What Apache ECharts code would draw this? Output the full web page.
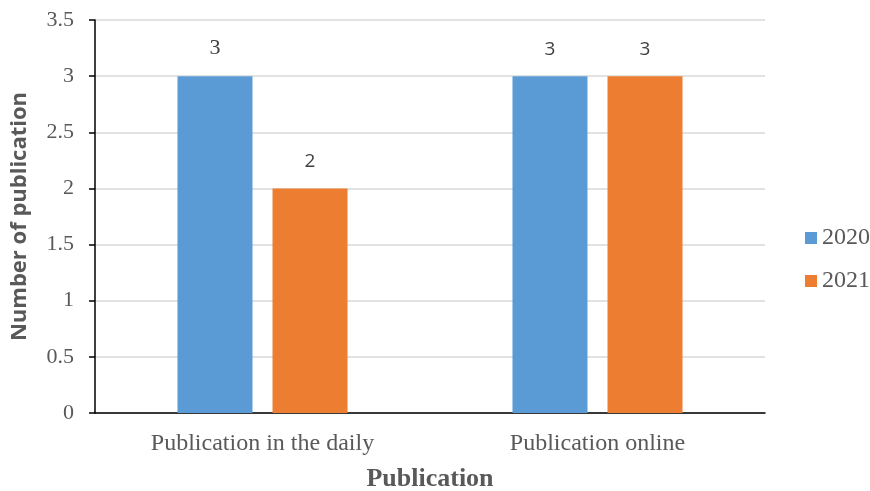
<!DOCTYPE html>
<html>
<head>
<meta charset="utf-8">
<script src="https://cdn.jsdelivr.net/npm/echarts@6/dist/echarts.min.js"></script>
<style>
  html, body { margin: 0; padding: 0; background: #fff; }
  #chart { width: 870px; height: 491px; }
</style>
</head>
<body>
<div id="chart"></div>
<script>
// Publication counts per channel, by year
const categories = ['Publication in the daily', 'Publication online'];
const years = ['2020', '2021'];
const values2020 = [3, 3];
const values2021 = [2, 3];
const yTicks = { min: 0, max: 3.5, interval: 0.5 };

const serif = '"Liberation Serif", "Times New Roman", serif';
const sans = '"Open Sans", "Noto Sans", sans-serif';

const barLabel = {
  show: true,
  position: 'top',
  distance: 17,
  fontFamily: sans,
  fontSize: 19,
  color: '#404040'
};

function toData(vals, serifFirst) {
  return vals.map((v, i) => (serifFirst && i === 0)
    ? { value: v, label: { fontFamily: serif, fontSize: 22 } }
    : v);
}

const chart = echarts.init(document.getElementById('chart'));
chart.setOption({
  animation: false,
  grid: { left: 95, right: 105, top: 20, bottom: 78, containLabel: false, outerBoundsMode: 'none' },
  legend: {
    orient: 'vertical',
    left: 800,
    top: 221,
    itemWidth: 12,
    itemHeight: 12,
    itemGap: 19,
    icon: 'rect',
    textStyle: { fontFamily: serif, fontSize: 24, color: '#595959' },
    data: years
  },
  xAxis: {
    type: 'category',
    data: categories,
    name: 'Publication',
    nameLocation: 'middle',
    nameGap: 53,
    nameTextStyle: { fontFamily: serif, fontSize: 26, fontWeight: 'bold', color: '#595959' },
    axisLine: { lineStyle: { color: '#000', width: 1.5 } },
    axisTick: { show: false },
    axisLabel: { fontFamily: serif, fontSize: 24, color: '#595959', margin: 19 }
  },
  yAxis: {
    type: 'value',
    min: yTicks.min,
    max: yTicks.max,
    interval: yTicks.interval,
    name: 'Number of publication',
    nameLocation: 'middle',
    nameGap: 64,
    nameTextStyle: { fontFamily: sans, fontSize: 22, fontWeight: 'bold', color: '#595959' },
    axisLine: { show: true, lineStyle: { color: '#000', width: 1.5 } },
    axisTick: { show: true, length: 6, lineStyle: { color: '#000', width: 1.5 } },
    axisLabel: { fontFamily: serif, fontSize: 22, color: '#595959', margin: 21 },
    splitLine: { lineStyle: { color: '#d9d9d9', width: 1.5 } }
  },
  series: [
    {
      name: years[0],
      type: 'bar',
      data: toData(values2020, true),
      barWidth: 75,
      barGap: '26.7%',
      itemStyle: { color: '#5b9bd5' },
      label: barLabel
    },
    {
      name: years[1],
      type: 'bar',
      data: toData(values2021, false),
      barWidth: 75,
      itemStyle: { color: '#ed7d31' },
      label: barLabel
    }
  ]
});
</script>
</body>
</html>
